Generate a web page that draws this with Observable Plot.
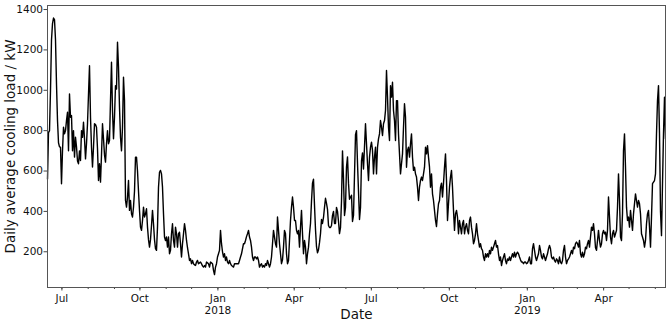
<!DOCTYPE html>
<html><head><meta charset="utf-8">
<script src="https://cdn.jsdelivr.net/npm/d3@7"></script>
<script src="https://cdn.jsdelivr.net/npm/@observablehq/plot@0.6"></script>
<style>html,body{margin:0;padding:0;background:#fff}#chart svg{display:block}</style>
</head><body><div id="chart"></div>
<script>
// First and last day of the daily series
const startDate = "2017-06-14";
const endDate = "2019-06-13";

// Daily average cooling load (kW) in time order
const loadSummer2017 = [
560,790,800,1000,1250,1330,1358,1350,1250,1030,
850,740,720,718,537,700,817,784,800,850,
891,700,982,866,875,700,800,669,767,720,
650,636,700,652,800,767,842,760,660,735,
834,980,1122,866,718,620,718,834,830,817,
710,553,636,545,680,834,760,680,644,735,
800,735,751,949,1139,900,760,866,1023,1006,
1238,1114,916,767,700,817,1065,949];
const loadAutumn2017 = [
454,421,470,553,405,454,388,372,421,500,
669,669,600,500,405,322,306,355,421,372,
388,413,322,260,223,260,330,405,339,260,
215,207,322,520,594,603,586,520,388,273,
256,273,223,273,190,207,289,339,256,223,
322,289,223,289,297,240,174,240,289,339,
306,256,220,190,157,165,141,157,141,135,
132,149,157,141,145,149,141,130,124,132];
const loadWinter2018 = [
124,149,145,141,124,149,145,141,108,87,
124,141,174,190,207,306,240,200,174,190,
157,174,149,141,157,141,132,128,124,141,
141,141,141,141,157,174,190,215,240,240,
256,275,289,306,273,256,223,174,157,174,
174,165,174,157,124,135,141,124,132,124,
141,132,157,141,124,141,174,240,306,273,
240,223,372,306,240,190,141,160,223,306];
const loadSpring2018 = [
289,190,141,157,256,355,421,471,421,355,
355,306,289,306,223,322,405,289,190,256,
223,141,190,223,289,340,450,540,560,430,
310,225,195,210,245,290,360,340,370,420,
465,440,410,330,320,320,330,380,400,340,
340,420,400,350,290,320,450,700,560,380,
420,620,670,540,460,470,480,350,380,580,
780,800,640,500,360,420,650,690,610,720];
const loadSummer2018 = [
834,735,636,553,669,718,743,702,586,669,
718,586,718,759,784,850,817,776,834,850,
900,1098,966,817,751,1023,966,1040,900,850,
751,949,949,784,685,586,636,685,817,933,
867,619,702,718,669,735,784,669,603,619,
586,570,520,454,520,553,570,553,586,619,
718,685,726,669,619,520,586,487,454,405,
355,325,388,438,454,520,540,471,540,619];
const loadAutumn2018 = [
685,553,355,438,520,570,603,520,405,306,
388,405,372,289,355,322,289,339,355,289,
322,339,306,289,355,372,322,289,240,256,
289,339,289,256,223,240,215,207,174,157,
190,174,190,174,207,190,223,207,223,240,
256,223,231,190,157,174,132,157,174,190,
157,141,165,157,174,157,174,190,174,198,
174,190,198,190,174,160,149,149,141,149];
const loadWinter2019 = [
149,141,145,157,174,141,141,215,240,207,
174,157,174,190,231,207,174,165,190,174,
157,174,190,215,231,215,174,165,174,157,
149,165,157,141,174,149,141,157,207,231,
174,141,157,165,174,190,207,190,223,215,
240,248,240,223,256,190,174,198,174,190,
223,215,240,256,223,273,322,306,339,289];
const loadSpring2019 = [
220,207,256,306,256,223,240,289,306,289,
297,256,306,471,372,273,240,289,306,273,
289,306,421,586,454,273,256,388,702,784,
619,421,355,372,322,405,355,306,388,438,
487,454,421,454,438,388,289,273,256,223,
256,339,388,405,322,223,372,537,545,553,
586,784,949,1023,784,400,280,537,784,966,760];

const yTicks = [200, 400, 600, 800, 1000, 1200, 1400];
const yLabel = "Daily average cooling load / kW";
const xLabel = "Date";

const loads = [].concat(loadSummer2017, loadAutumn2017, loadWinter2018, loadSpring2018,
  loadSummer2018, loadAutumn2018, loadWinter2019, loadSpring2019);
const t0 = new Date(startDate), t1 = new Date(endDate);
const data = loads.map((v, i) => ({date: new Date(+t0 + (t1 - t0) * i / (loads.length - 1)), load: v}));

const monthTicks = d3.utcMonth.range(t0, t1);
const majorTicks = monthTicks.filter(d => d.getUTCMonth() % 3 === 0);
const fmtMonth = d3.utcFormat("%b");
const fmtTick = d => d.getUTCMonth() === 0 ? `${fmtMonth(d)}\n${d.getUTCFullYear()}` : fmtMonth(d);

const chart = Plot.plot({
  width: 666, height: 326,
  marginLeft: 47, marginRight: 1, marginTop: 5, marginBottom: 39,
  style: {fontFamily: "DejaVu Sans", fontSize: "10.5px", color: "#111", background: "#fff"},
  x: {type: "utc", domain: [t0, t1]},
  y: {domain: [23, 1420]},
  marks: [
    Plot.axisX({ticks: monthTicks, tickSize: 2, text: null, label: null, stroke: "#444"}),
    Plot.axisX({ticks: majorTicks, tickSize: 3.5, tickPadding: 2, tickFormat: fmtTick, lineHeight: 1.15, label: null, stroke: "#444"}),
    Plot.axisY({ticks: yTicks, tickSize: 3.5, tickPadding: 1, tickFormat: d3.format("d"), label: null, stroke: "#444"}),
    Plot.line(data, {x: "date", y: "load", stroke: "#000", strokeWidth: 1.4}),
    Plot.frame({stroke: "#555"}),
    Plot.text([yLabel], {frameAnchor: "left", textAnchor: "middle", dx: -37, rotate: -90, fontSize: 13.5, fill: "#111"}),
    Plot.text([xLabel], {frameAnchor: "bottom", textAnchor: "middle", dy: 31, fontSize: 13.5, fill: "#111"})
  ]
});
document.getElementById("chart").append(chart);
</script>
</body></html>
